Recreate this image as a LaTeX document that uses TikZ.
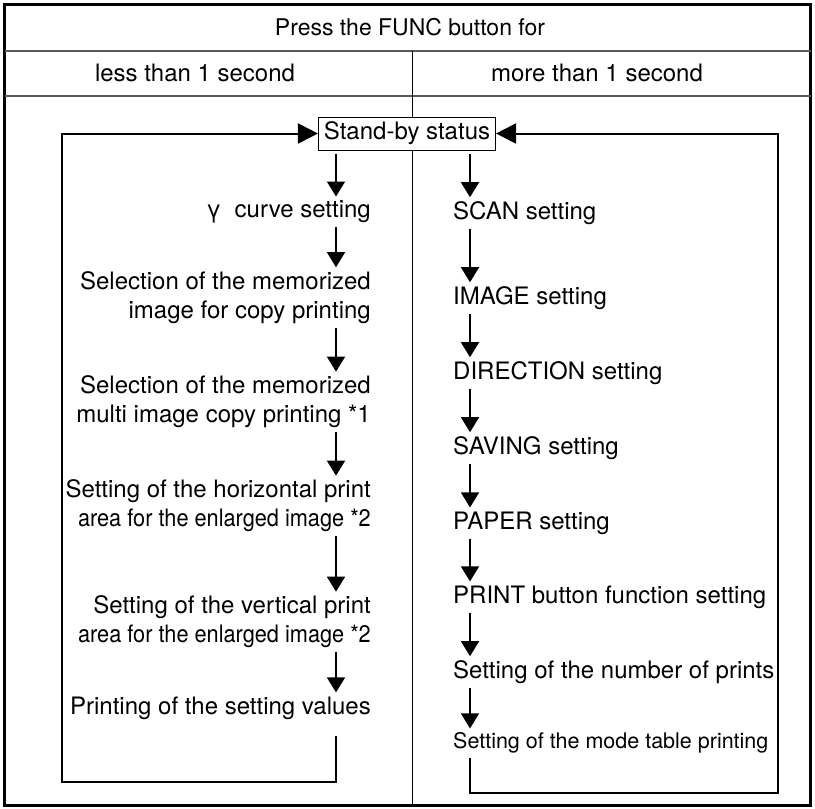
\documentclass[tikz,border=0pt]{standalone}
\usepackage{fontspec}
\setmainfont{TeX Gyre Heros}
\usetikzlibrary{arrows.meta, positioning}

\begin{document}
\begin{tikzpicture}[x=1pt,y=-1pt,
lab/.style={inner sep=4pt,font=\fontsize{24}{29}\selectfont},
litem/.style={lab,anchor=east,align=right},
ritem/.style={lab,anchor=west,align=left},
flow/.style={line width=1.5pt,-{Triangle[length=15pt,width=18pt]}},
loopline/.style={line width=2pt,line join=miter,-{Triangle[length=20pt,width=20pt]}},
rule/.style={line width=2pt,black!65}]
 \useasboundingbox (0,0) rectangle (815,809);

 % frame and header
 \draw[line width=3pt] (4.5,4.5) rectangle (810.5,805.5);
 \draw[rule] (4.5,51) -- (810.5,51);
 \draw[rule] (4.5,96) -- (810.5,96);
 \draw[line width=1pt] (412,51) -- (412,805.5);

 \node[lab,font=\fontsize{23}{27}\selectfont] (title) at (410,27) {Press the FUNC button for};
 \node[lab] (less) at (195,73) {less than 1 second};
 \node[lab] (more) at (597,73) {more than 1 second};

 \node[lab,draw,line width=1pt,fill=white,inner xsep=5.5pt,minimum height=33pt] (sb) at (407,133.5) {Stand-by status};

 \coordinate (lx) at (336,0);
 \coordinate (rx) at (470,0);

 % short press
 \node[litem] (L0) at (375,212) {γ\ \ curve setting};
 \node[litem] (L1) at (375,297.5) {Selection of the memorized\\image for copy printing};
 \node[litem] (L2) at (375,402) {Selection of the memorized\\multi image copy printing *1};
 \node[litem] (L3) at (375,506) {Setting of the horizontal print\\\scalebox{0.905}[1]{area for the enlarged image *2}};
 \node[litem] (L4) at (375,622) {Setting of the vertical print\\\scalebox{0.905}[1]{area for the enlarged image *2}};
 \node[litem] (L5) at (375,708) {Printing of the setting values};

 % long press
 \node[ritem] (R0) at (449,213) {SCAN setting};
 \node[ritem] (R1) at (449,298) {IMAGE setting};
 \node[ritem] (R2) at (449,373) {DIRECTION setting};
 \node[ritem] (R3) at (449,448) {SAVING setting};
 \node[ritem] (R4) at (449,523) {PAPER setting};
 \node[ritem] (R5) at (449,597) {PRINT button function setting};
 \node[ritem] (R6) at (449,672) {Setting of the number of prints};
 \node[ritem,font=\fontsize{21.5}{26}\selectfont] (R7) at (449,743) {Setting of the mode table printing};

 \draw[flow,shorten <=3pt] (sb.south -| lx) -- (L0.north -| lx);
 \draw[flow,shorten <=3pt] (sb.south -| rx) -- (R0.north -| rx);

 \foreach \a/\b in {L0/L1,L1/L2,L2/L3,L3/L4,L4/L5} {
 \draw[flow] (\a.south -| lx) -- (\b.north -| lx);
 }
 \foreach \a/\b in {R0/R1,R1/R2,R2/R3,R3/R4,R4/R5,R5/R6,R6/R7} {
 \draw[flow] (\a.south -| rx) -- (\b.north -| rx);
 }

 % return loops
 \coordinate (lbot) at (62,782);
 \coordinate (rbot) at (778,793);
 \draw[loopline] ([yshift=-12pt]L5.south -| lx) |- (lbot) |- (sb.west);
 \draw[loopline] (R7.south -| rx) |- (rbot) |- (sb.east);

\end{tikzpicture}
\end{document}
